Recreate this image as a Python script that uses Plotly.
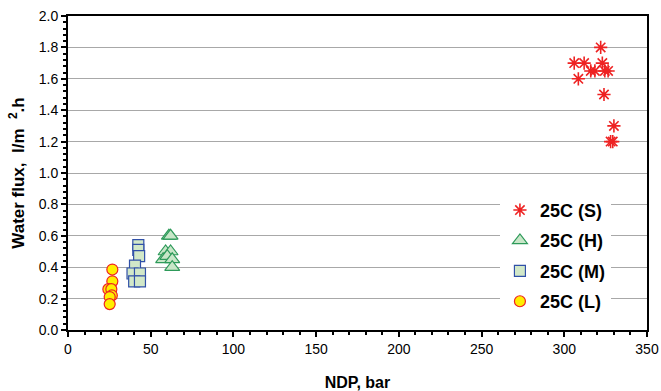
import plotly.graph_objects as go

# Data (NDP in bar, water flux in l/m2.h)
s_x = [322, 306, 312, 323, 316, 318.5, 324.5, 326.5, 308.5, 324, 330, 328, 329.3]
s_y = [1.80, 1.70, 1.70, 1.70, 1.65, 1.65, 1.65, 1.65, 1.60, 1.50, 1.30, 1.20, 1.20]

h_x = [61, 62, 59, 62, 57.5, 60, 63, 63]
h_y = [0.60, 0.60, 0.50, 0.50, 0.45, 0.47, 0.45, 0.40]

m_x = [42.5, 42.5, 43, 40.5, 39, 43.5, 40, 43.5]
m_y = [0.54, 0.51, 0.47, 0.41, 0.36, 0.36, 0.31, 0.31]

l_x = [26.8, 26.8, 24.4, 26.2, 26.5, 25.2, 25.2]
l_y = [0.385, 0.31, 0.26, 0.26, 0.22, 0.21, 0.165]

names = ["25C (S)", "25C (H)", "25C (M)", "25C (L)"]

fig = go.Figure()
fig.add_trace(go.Scatter(x=s_x, y=s_y, mode="markers", name=names[0], legendgroup="s",
                         marker=dict(symbol="asterisk-open", size=11, color="#ee2222",
                                     line=dict(color="#ee2222", width=1.6))))
fig.add_trace(go.Scatter(x=h_x, y=h_y, mode="markers", name=names[1], legendgroup="h",
                         marker=dict(symbol="triangle-up", size=13, color="#c8e6c8",
                                     line=dict(color="#2e9a5a", width=1.2))))
fig.add_trace(go.Scatter(x=m_x, y=m_y, mode="markers", name=names[2], legendgroup="m",
                         marker=dict(symbol="square", size=11, color="#d2e8c8",
                                     line=dict(color="#3050a8", width=1.2))))
fig.add_trace(go.Scatter(x=l_x, y=l_y, mode="markers", name=names[3], legendgroup="l",
                         marker=dict(symbol="circle", size=11, color="#ffee00",
                                     line=dict(color="#ee2222", width=1.2))))

font = "Arial, Liberation Sans, sans-serif"
fig.update_layout(
    width=661, height=391,
    margin=dict(l=68, r=14, t=16, b=61),
    paper_bgcolor="white", plot_bgcolor="white",
    font=dict(family=font, size=14, color="black"),
    showlegend=True,
    legend=dict(x=0.746, y=0.44, xanchor="left", yanchor="top",
                bgcolor="white", font=dict(size=18, family=font, color="black", weight="bold"),
                tracegroupgap=4, traceorder="grouped", itemwidth=30),
    xaxis=dict(range=[0, 350], dtick=50, showgrid=False, zeroline=False, automargin=False,
               showline=True, linecolor="black", linewidth=2, mirror=True,
               ticks="outside", ticklen=5, tickwidth=1.5, tickcolor="black",
               minor=dict(dtick=10, ticks="outside", ticklen=3, tickcolor="black", showgrid=False),
               title=dict(text="<b>NDP, bar</b>", font=dict(size=16), standoff=22)),
    yaxis=dict(range=[0, 2.0], dtick=0.2, tickformat=".1f", showgrid=True, automargin=False,
               gridcolor="#a8a8a8", gridwidth=1, zeroline=False,
               showline=True, linecolor="black", linewidth=2, mirror=True,
               ticks="outside", ticklen=5, tickwidth=1.5, tickcolor="black",
               minor=dict(dtick=0.04, ticks="outside", ticklen=3, tickcolor="black", showgrid=False),
               title=dict(text="<b>Water flux,&nbsp; l/m&nbsp; <sup>2</sup>.h</b>",
                          font=dict(size=17), standoff=10)),
)

fig.write_html("out.html")
